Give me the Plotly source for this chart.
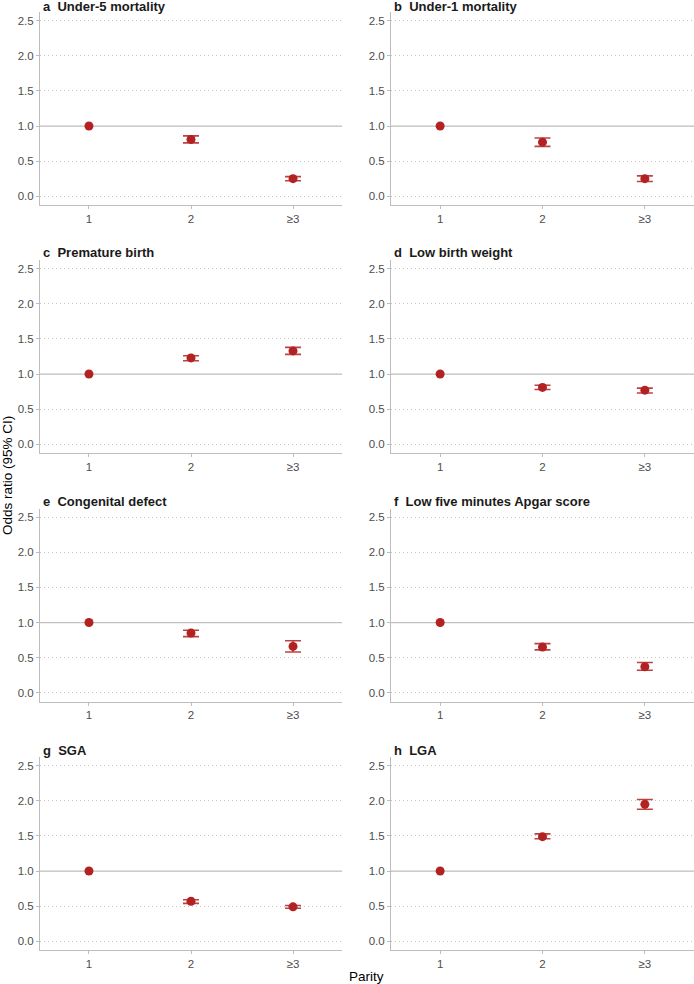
import plotly.graph_objects as go

# ---- data ----
categories = ["1", "2", "≥3"]
panel_letters = ["a", "b", "c", "d", "e", "f", "g", "h"]
panel_titles = ["Under-5 mortality", "Under-1 mortality", "Premature birth",
                "Low birth weight", "Congenital defect", "Low five minutes Apgar score",
                "SGA", "LGA"]
odds_ratio = [
    [1.00, 0.81, 0.25],
    [1.00, 0.77, 0.25],
    [1.00, 1.23, 1.33],
    [1.00, 0.81, 0.77],
    [1.00, 0.85, 0.66],
    [1.00, 0.65, 0.37],
    [1.00, 0.57, 0.49],
    [1.00, 1.49, 1.95],
]
ci_lower = [
    [1.00, 0.76, 0.22],
    [1.00, 0.71, 0.21],
    [1.00, 1.19, 1.28],
    [1.00, 0.78, 0.73],
    [1.00, 0.80, 0.58],
    [1.00, 0.61, 0.32],
    [1.00, 0.54, 0.47],
    [1.00, 1.46, 1.88],
]
ci_upper = [
    [1.00, 0.86, 0.28],
    [1.00, 0.83, 0.29],
    [1.00, 1.26, 1.38],
    [1.00, 0.84, 0.80],
    [1.00, 0.89, 0.74],
    [1.00, 0.70, 0.43],
    [1.00, 0.59, 0.51],
    [1.00, 1.53, 2.02],
]
y_ticks = [0.0, 0.5, 1.0, 1.5, 2.0, 2.5]

# ---- layout geometry (pixels) ----
W, H = 694, 984
col_x = [(40, 342), (391, 694)]
row_y = [(12, 205), (260, 453), (508.5, 701.5), (757, 950)]

FONT = "Liberation Sans, Arial, sans-serif"
RED = "#B22222"
GRID = "#C4C4C4"
AXIS = "#BDBDBD"
TICKFONT = dict(family=FONT, size=11.5, color="#4D4D4D")

fig = go.Figure()
annotations = []
shapes = []

for i in range(8):
    r, c = divmod(i, 2)
    n = i + 1
    xa = "x" if n == 1 else f"x{n}"
    ya = "y" if n == 1 else f"y{n}"
    xk = "xaxis" if n == 1 else f"xaxis{n}"
    yk = "yaxis" if n == 1 else f"yaxis{n}"

    # error bars only where the interval has width
    idx = [j for j in range(3) if ci_upper[i][j] > ci_lower[i][j]]
    fig.add_trace(go.Scatter(
        x=[categories[j] for j in idx],
        y=[odds_ratio[i][j] for j in idx],
        mode="markers",
        marker=dict(size=1, color="rgba(0,0,0,0)"),
        error_y=dict(type="data", symmetric=False,
                     array=[ci_upper[i][j] - odds_ratio[i][j] for j in idx],
                     arrayminus=[odds_ratio[i][j] - ci_lower[i][j] for j in idx],
                     color="rgba(178,34,34,0.85)", thickness=1.6, width=8),
        xaxis=xa, yaxis=ya, showlegend=False, hoverinfo="skip"))
    fig.add_trace(go.Scatter(
        x=categories, y=odds_ratio[i], mode="markers",
        marker=dict(size=9, color=RED),
        xaxis=xa, yaxis=ya, showlegend=False))

    x0, x1 = col_x[c]
    y0, y1 = row_y[r]
    fig.layout[xk] = dict(
        domain=[x0 / W, x1 / W], anchor=ya,
        type="category", categoryorder="array", categoryarray=categories,
        range=[-0.48, 2.48],
        showgrid=False, zeroline=False,
        showline=True, linecolor=AXIS, linewidth=1,
        ticks="outside", ticklen=3, tickcolor=AXIS, tickwidth=1,
        tickfont=TICKFONT, fixedrange=True)
    fig.layout[yk] = dict(
        domain=[1 - y1 / H, 1 - y0 / H], anchor=xa,
        range=[-0.125, 2.625],
        tickmode="array", tickvals=y_ticks, ticktext=[f"{v:.1f}" for v in y_ticks],
        showgrid=True, gridcolor=GRID, gridwidth=1, griddash="1px,3px",
        zeroline=False,
        showline=True, linecolor=AXIS, linewidth=1,
        ticks="outside", ticklen=3, tickcolor=AXIS, tickwidth=1,
        tickfont=TICKFONT, fixedrange=True)

    # reference line at OR = 1
    shapes.append(dict(type="line", xref=f"{xa} domain", yref=ya,
                       x0=0, x1=1, y0=1, y1=1,
                       line=dict(color="#BFBFBF", width=1.2), layer="below"))

    ty = max(y0 - 7, 7)
    annotations.append(dict(
        text=f"<b>{panel_letters[i]}  {panel_titles[i]}</b>",
        xref="paper", yref="paper",
        x=(x0 + 2) / W, y=1 - ty / H,
        xanchor="left", yanchor="middle", showarrow=False, borderpad=0,
        font=dict(family=FONT, size=13, color="#1A1A1A")))

annotations.append(dict(
    text="Odds ratio (95% CI)", xref="paper", yref="paper",
    x=7 / W, y=1 - 476 / H, textangle=-90,
    xanchor="center", yanchor="middle", showarrow=False,
    font=dict(family=FONT, size=13.5, color="#000000")))
annotations.append(dict(
    text="Parity", xref="paper", yref="paper",
    x=367 / W, y=1 - 976 / H,
    xanchor="center", yanchor="middle", showarrow=False,
    font=dict(family=FONT, size=13.5, color="#000000")))

fig.update_layout(
    width=W, height=H,
    margin=dict(l=0, r=0, t=0, b=0),
    paper_bgcolor="white", plot_bgcolor="white",
    annotations=annotations, shapes=shapes,
    font=dict(family=FONT),
)

fig.write_html("out.html")
